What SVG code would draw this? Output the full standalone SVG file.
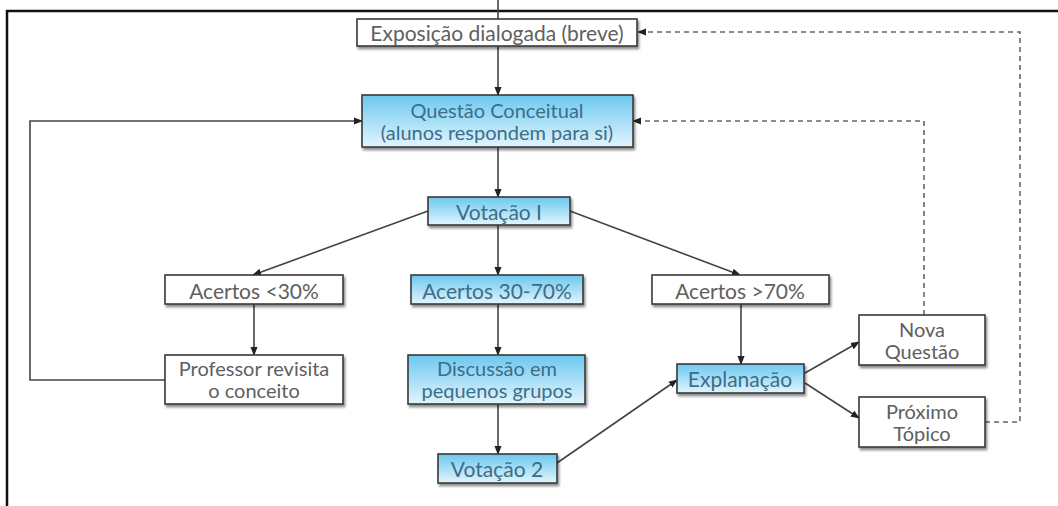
<svg xmlns="http://www.w3.org/2000/svg" width="1058" height="506" viewBox="0 0 1058 506">
<defs>
<linearGradient id="blue" x1="0" y1="0" x2="0" y2="1">
<stop offset="0" stop-color="#6cc8ef"/>
<stop offset="1" stop-color="#e2f5fd"/>
</linearGradient>
<filter id="sh" x="-10%" y="-20%" width="130%" height="160%">
<feDropShadow dx="1.5" dy="2.5" stdDeviation="1.2" flood-color="#000" flood-opacity="0.45"/>
</filter>
<marker id="ah" viewBox="0 0 10 10" refX="9" refY="5" markerWidth="9" markerHeight="9" markerUnits="userSpaceOnUse" orient="auto">
<path d="M0,1 L10,5 L0,9 z" fill="#222"/>
</marker>
</defs>
<style>
.box{stroke:#3a3a3a;stroke-width:1.6;filter:url(#sh)}
.w{fill:#ffffff}
.b{fill:url(#blue)}
text{font-family:Lato,"Open Sans","Liberation Sans",sans-serif;font-size:21px;text-anchor:middle;dominant-baseline:central}
text.two{font-size:20px}
.tw{fill:#606060}
.tb{fill:#3d6d88}
.ln{fill:none;stroke:#444;stroke-width:1.6}
.dl{fill:none;stroke:#666;stroke-width:1.6;stroke-dasharray:5,4}
</style>
<rect width="1058" height="506" fill="#ffffff"/>
<path d="M7,506 L7,11 L1058,11" fill="none" stroke="#111" stroke-width="2.5"/>
<g id="connectors">
<line class="ln" x1="498" y1="0" x2="498" y2="19"/>
<line class="ln" x1="498" y1="46" x2="498" y2="95" marker-end="url(#ah)"/>
<line class="ln" x1="498" y1="147" x2="498" y2="197" marker-end="url(#ah)"/>
<line class="ln" x1="428" y1="211" x2="253" y2="275" marker-end="url(#ah)"/>
<line class="ln" x1="498" y1="225" x2="498" y2="275" marker-end="url(#ah)"/>
<line class="ln" x1="570" y1="211" x2="740" y2="275" marker-end="url(#ah)"/>
<line class="ln" x1="254" y1="304" x2="254" y2="355" marker-end="url(#ah)"/>
<polyline class="ln" points="165,380 30,380 30,121 362,121" marker-end="url(#ah)"/>
<line class="ln" x1="498" y1="304" x2="498" y2="355" marker-end="url(#ah)"/>
<line class="ln" x1="498" y1="404" x2="498" y2="454" marker-end="url(#ah)"/>
<line class="ln" x1="557" y1="463" x2="677" y2="380" marker-end="url(#ah)"/>
<line class="ln" x1="741" y1="304" x2="741" y2="364" marker-end="url(#ah)"/>
<line class="ln" x1="805" y1="373" x2="859" y2="342" marker-end="url(#ah)"/>
<line class="ln" x1="805" y1="383" x2="859" y2="418" marker-end="url(#ah)"/>
<polyline class="dl" points="924,315 924,121 633,121" marker-end="url(#ah)"/>
<polyline class="dl" points="985,422 1020,422 1020,32 638,32" marker-end="url(#ah)"/>
</g>
<g id="exposicao">
<rect class="box w" x="357" y="19" width="280" height="27"/>
<text class="tw" x="497" y="32">Exposição dialogada (breve)</text>
</g>
<g id="questao">
<rect class="box b" x="362" y="95" width="271" height="52"/>
<text class="tb two" x="497" y="110">Questão Conceitual</text>
<text class="tb two" x="497" y="132">(alunos respondem para si)</text>
</g>
<g id="votacao1">
<rect class="box b" x="428" y="197" width="142" height="28"/>
<text class="tb" x="499" y="211">Votação I</text>
</g>
<g id="acertos30">
<rect class="box w" x="165" y="275" width="178" height="29"/>
<text class="tw" x="254" y="290">Acertos &lt;30%</text>
</g>
<g id="acertos3070">
<rect class="box b" x="411" y="275" width="172" height="29"/>
<text class="tb" x="497" y="290">Acertos 30-70%</text>
</g>
<g id="acertos70">
<rect class="box w" x="652" y="275" width="177" height="29"/>
<text class="tw" x="740" y="290">Acertos &gt;70%</text>
</g>
<g id="professor">
<rect class="box w" x="165" y="355" width="178" height="49"/>
<text class="tw two" x="254" y="368">Professor revisita</text>
<text class="tw two" x="254" y="390">o conceito</text>
</g>
<g id="discussao">
<rect class="box b" x="408" y="355" width="177" height="49"/>
<text class="tb two" x="497" y="368">Discussão em</text>
<text class="tb two" x="497" y="390">pequenos grupos</text>
</g>
<g id="votacao2">
<rect class="box b" x="438" y="454" width="119" height="29"/>
<text class="tb" x="497" y="468">Votação 2</text>
</g>
<g id="explanacao">
<rect class="box b" x="677" y="364" width="127" height="29"/>
<text class="tb" x="740" y="378">Explanação</text>
</g>
<g id="nova">
<rect class="box w" x="859" y="315" width="126" height="50"/>
<text class="tw two" x="922" y="329">Nova</text>
<text class="tw two" x="922" y="351">Questão</text>
</g>
<g id="proximo">
<rect class="box w" x="859" y="397" width="126" height="50"/>
<text class="tw two" x="922" y="411">Próximo</text>
<text class="tw two" x="922" y="433">Tópico</text>
</g>
</svg>
